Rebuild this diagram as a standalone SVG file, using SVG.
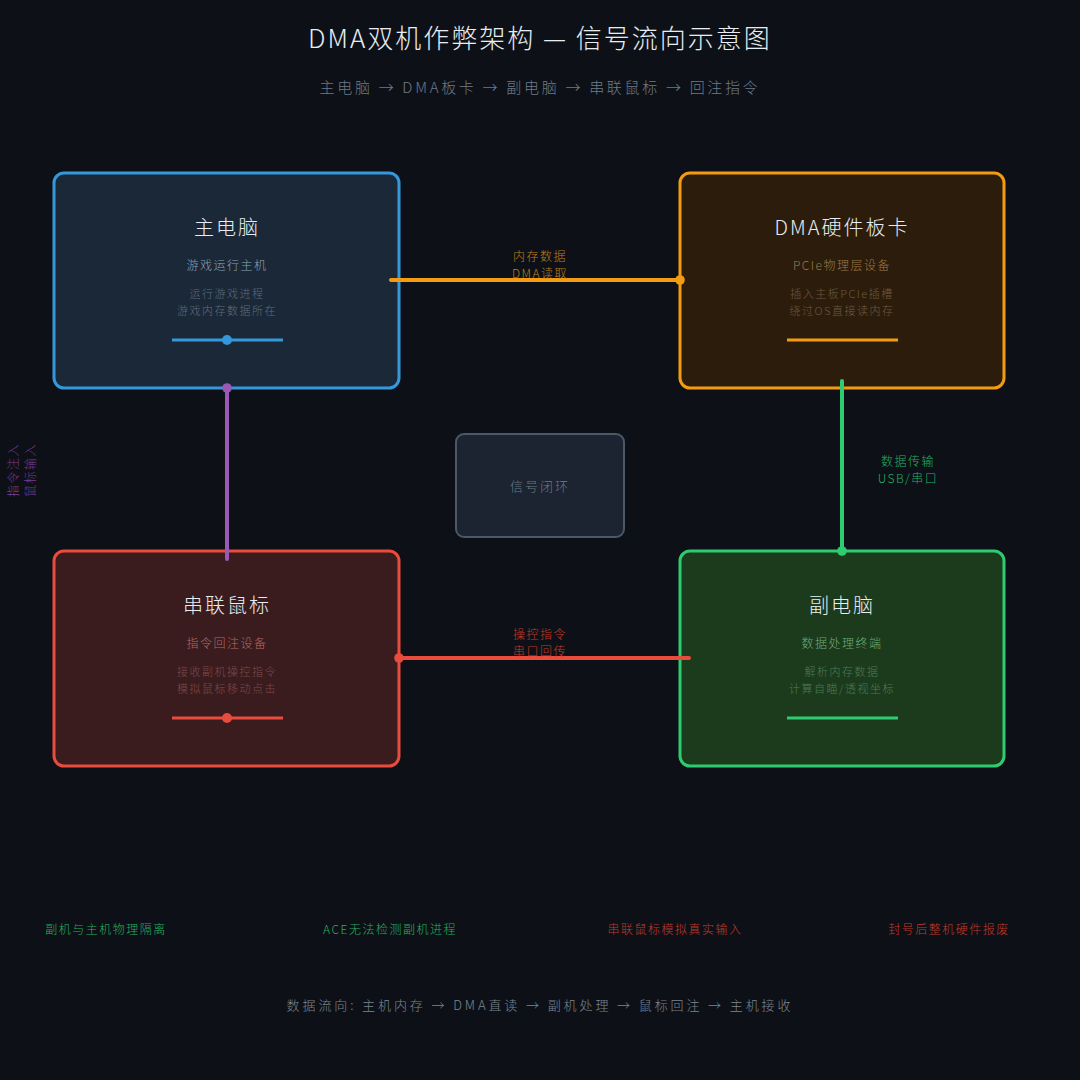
<svg xmlns="http://www.w3.org/2000/svg" width="1080" height="1080" viewBox="0 0 1080 1080">
<defs>
<style>
text{font-family:"Noto Sans CJK SC","Noto Sans",sans-serif;text-anchor:middle;font-weight:300}
.title{font-size:26px;fill:#e6edf3;letter-spacing:2px}
.sub{font-size:15px;fill:#6e7a88;letter-spacing:2.7px}
.nt{font-size:20px;fill:#e6edf3;letter-spacing:2px}
.ns{font-size:12px;letter-spacing:1.5px}
.nd{font-size:11px;letter-spacing:1.5px}
.cl{font-size:12px;letter-spacing:1.5px}
.node{stroke-width:3}
.conn{stroke-width:4;fill:none;stroke-linecap:round}
</style>
<marker id="dO" viewBox="0 0 10 10" refX="5" refY="5" markerWidth="3" markerHeight="3" markerUnits="strokeWidth"><circle cx="5" cy="5" r="4" fill="#f39c12"/></marker>
<marker id="dG" viewBox="0 0 10 10" refX="5" refY="5" markerWidth="3" markerHeight="3" markerUnits="strokeWidth"><circle cx="5" cy="5" r="4" fill="#2ecc71"/></marker>
<marker id="dR" viewBox="0 0 10 10" refX="5" refY="5" markerWidth="3" markerHeight="3" markerUnits="strokeWidth"><circle cx="5" cy="5" r="4" fill="#e74c3c"/></marker>
<marker id="dP" viewBox="0 0 10 10" refX="5" refY="5" markerWidth="3" markerHeight="3" markerUnits="strokeWidth"><circle cx="5" cy="5" r="4" fill="#9b59b6"/></marker>
</defs>
<rect width="1080" height="1080" fill="#0d1117"/>
<text class="title" x="540" y="48">DMA双机作弊架构 — 信号流向示意图</text>
<text class="sub" x="540" y="93">主电脑 → DMA板卡 → 副电脑 → 串联鼠标 → 回注指令</text>

<g id="node-main">
<rect class="node" x="54" y="173" width="345" height="215" rx="10" fill="#1b2838" stroke="#3498db"/>
<text class="nt" x="227" y="235">主电脑</text>
<text class="ns" x="227" y="270" fill="#8ea3b8">游戏运行主机</text>
<text class="nd" x="227" y="298" fill="#5d6d7e">运行游戏进程</text>
<text class="nd" x="227" y="315" fill="#5d6d7e">游戏内存数据所在</text>
<line x1="172" y1="340" x2="283" y2="340" stroke="#3498db" stroke-width="3"/>
<circle cx="227" cy="340" r="5" fill="#3498db"/>
</g>

<g id="node-dma">
<rect class="node" x="680" y="173" width="324" height="215" rx="10" fill="#2c1c0c" stroke="#f39c12"/>
<text class="nt" x="842" y="235">DMA硬件板卡</text>
<text class="ns" x="842" y="270" fill="#9e7b46">PCIe物理层设备</text>
<text class="nd" x="842" y="298" fill="#6e5a3e">插入主板PCIe插槽</text>
<text class="nd" x="842" y="315" fill="#6e5a3e">绕过OS直接读内存</text>
<line x1="787" y1="340" x2="898" y2="340" stroke="#f39c12" stroke-width="3"/>
</g>

<g id="node-mouse">
<rect class="node" x="54" y="551" width="345" height="215" rx="10" fill="#3a1c1e" stroke="#e74c3c"/>
<text class="nt" x="227" y="613">串联鼠标</text>
<text class="ns" x="227" y="648" fill="#b46a66">指令回注设备</text>
<text class="nd" x="227" y="676" fill="#7a4a4a">接收副机操控指令</text>
<text class="nd" x="227" y="693" fill="#7a4a4a">模拟鼠标移动点击</text>
<line x1="172" y1="718" x2="283" y2="718" stroke="#e74c3c" stroke-width="3"/>
<circle cx="227" cy="718" r="5" fill="#e74c3c"/>
</g>

<g id="node-second">
<rect class="node" x="680" y="551" width="324" height="215" rx="10" fill="#1c3a1c" stroke="#2ecc71"/>
<text class="nt" x="842" y="613">副电脑</text>
<text class="ns" x="842" y="648" fill="#6fae7a">数据处理终端</text>
<text class="nd" x="842" y="676" fill="#4e7a56">解析内存数据</text>
<text class="nd" x="842" y="693" fill="#4e7a56">计算自瞄/透视坐标</text>
<line x1="787" y1="718" x2="898" y2="718" stroke="#2ecc71" stroke-width="3"/>
</g>

<g id="node-loop">
<rect x="456" y="434" width="168" height="103" rx="8" fill="#1b2430" stroke="#4a5868" stroke-width="2"/>
<text x="540" y="491" font-size="13" fill="#6e7a88" letter-spacing="2">信号闭环</text>
</g>

<g id="connectors">
<line class="conn" x1="391" y1="280" x2="680" y2="280" stroke="#f39c12" marker-end="url(#dO)"/>
<line class="conn" x1="842" y1="381" x2="842" y2="551" stroke="#2ecc71" marker-end="url(#dG)"/>
<line class="conn" x1="689" y1="658" x2="399" y2="658" stroke="#e74c3c" marker-end="url(#dR)"/>
<line class="conn" x1="227" y1="559" x2="227" y2="388" stroke="#9b59b6" marker-end="url(#dP)"/>
<text class="cl" x="540" y="261" fill="#b8801e">内存数据</text>
<text class="cl" x="540" y="278" fill="#b8801e">DMA读取</text>
<text class="cl" x="908" y="466" fill="#27ae60">数据传输</text>
<text class="cl" x="908" y="483" fill="#27ae60">USB/串口</text>
<text class="cl" x="540" y="639" fill="#c0392b">操控指令</text>
<text class="cl" x="540" y="656" fill="#c0392b">串口回传</text>
<g transform="translate(18,470) rotate(-90)">
<text class="cl" x="0" y="0" fill="#7d3c98">指令注入</text>
<text class="cl" x="0" y="17" fill="#7d3c98">鼠标输入</text>
</g>
</g>

<g id="notes">
<text class="cl" x="106" y="934" fill="#27ae60">副机与主机物理隔离</text>
<text class="cl" x="390" y="934" fill="#27ae60">ACE无法检测副机进程</text>
<text class="cl" x="675" y="934" fill="#c0392b">串联鼠标模拟真实输入</text>
<text class="cl" x="949" y="934" fill="#c0392b">封号后整机硬件报废</text>
</g>
<text x="540" y="1010" font-size="13" fill="#7d8590" letter-spacing="2.9">数据流向: 主机内存 → DMA直读 → 副机处理 → 鼠标回注 → 主机接收</text>
</svg>
